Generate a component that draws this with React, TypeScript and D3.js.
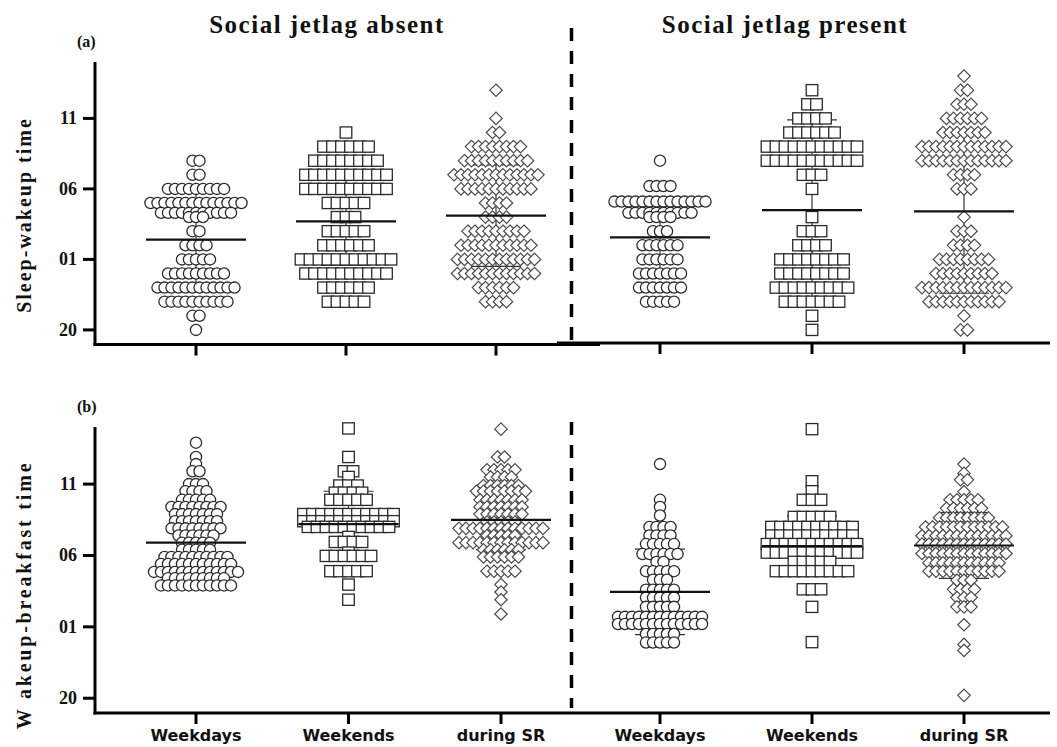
import React from 'react';
import * as d3 from 'd3';

// y values are hours after 20:00 (20 -> 0, 01 -> 5, 06 -> 10, 11 -> 15)
const categories = ['Weekdays', 'Weekends', 'during SR'];
const yTickValues = [0, 5, 10, 15];
const yTickLabels = ['20', '01', '06', '11'];
const columnTitles = ['Social jetlag absent', 'Social jetlag present'];

type Row = [number, number]; // [hours after 20:00, subjects in that row]

// (a) sleep-wakeup, social jetlag absent
const sleepAbsentWeekdays: Row[] = [[12, 2], [11, 2], [10, 9], [9, 14], [8.3, 11], [8, 3], [7, 2], [6, 4], [5, 5], [4, 9], [3, 12], [2, 10], [1, 2], [0, 1]];
const sleepAbsentWeekends: Row[] = [[14, 1], [13, 6], [12, 8], [11, 10], [10, 10], [9, 5], [8, 3], [7, 5], [6, 6], [5, 11], [4, 10], [3, 6], [2, 5]];
const sleepAbsentSR: Row[] = [[17, 1], [15, 1], [14, 2], [13, 8], [12, 10], [11, 13], [10, 11], [9, 4], [8, 4], [7, 9], [6, 11], [5, 12], [4, 12], [3, 6], [2, 4]];
const sleepAbsentMean = [6.4, 7.7, 8.1];
const sleepAbsentSd = [3.4, 3.1, 3.6];

// (a) sleep-wakeup, social jetlag present
const sleepPresentWeekdays: Row[] = [[12, 1], [10.2, 4], [9.1, 14], [8.3, 10], [8, 4], [7, 3], [6, 6], [5, 6], [4, 7], [3, 7], [2, 5]];
const sleepPresentWeekends: Row[] = [[17, 1], [16, 2], [15, 4], [14, 6], [13, 11], [12, 11], [11, 3], [10, 1], [8, 1], [7, 3], [6, 4], [5, 8], [4, 8], [3, 9], [2, 7], [1, 1], [0, 1]];
const sleepPresentSR: Row[] = [[18, 1], [17, 2], [16, 3], [15, 6], [14, 7], [13, 13], [12, 13], [11, 4], [10, 3], [8, 1], [7, 3], [6, 4], [5, 8], [4, 9], [3, 13], [2, 11], [1, 1], [0, 2]];
const sleepPresentMean = [6.56, 8.5, 8.4];
const sleepPresentSd = [2.6, 6.4, 5.8];

// (b) wakeup-breakfast, social jetlag absent
const breakfastAbsentWeekdays: Row[] = [[17.9, 1], [16.9, 1], [16.4, 1], [15.9, 2], [15, 3], [14.5, 4], [13.9, 5], [13.4, 8], [12.9, 7], [12.4, 7], [11.9, 8], [11.4, 6], [10.9, 5], [10.4, 5], [9.9, 10], [9.4, 11], [8.85, 13], [8.4, 9], [7.9, 11]];
const breakfastAbsentWeekends: Row[] = [[18.9, 1], [16.9, 1], [15.9, 2], [15.5, 1], [14.9, 3], [14.4, 4], [13.9, 5], [12.9, 11], [12.4, 11], [12, 10], [11.3, 1], [10.95, 4], [10.2, 1], [9.97, 6], [8.9, 5], [7.96, 1], [6.9, 1]];
const breakfastAbsentSR: Row[] = [[18.85, 1], [16.9, 2], [16, 5], [15.5, 4], [14.9, 6], [14.5, 8], [13.9, 7], [13.4, 7], [12.9, 7], [12.35, 5], [11.9, 13], [11.4, 5], [10.9, 13], [10.4, 6], [9.9, 6], [8.9, 5], [7.96, 1], [7.44, 1], [6.9, 1], [5.9, 1]];
const breakfastAbsentMean = [10.9, 12.2, 12.5];
const breakfastAbsentSd = [2.8, 2.3, 2.1];

// (b) wakeup-breakfast, social jetlag present
const breakfastPresentWeekdays: Row[] = [[16.4, 1], [13.9, 1], [13.4, 1], [12.8, 1], [12, 4], [11.4, 4], [10.8, 5], [10.1, 6], [9.55, 2], [8.9, 5], [8.3, 3], [7.6, 5], [7.05, 5], [6.4, 5], [5.7, 13], [5.2, 13], [4.5, 5], [3.9, 5]];
const breakfastPresentWeekends: Row[] = [[18.85, 1], [15.2, 1], [14.5, 1], [13.9, 3], [12.7, 5], [12, 10], [11.4, 10], [10.8, 11], [10.2, 11], [9.55, 5], [8.9, 9], [7.63, 3], [6.4, 1], [3.93, 1]];
const breakfastPresentSR: Row[] = [[16.4, 1], [15.75, 1], [15.3, 2], [14.47, 1], [13.9, 5], [13.3, 6], [12.64, 8], [12, 12], [11.38, 13], [10.8, 13], [10.14, 13], [9.48, 11], [8.9, 11], [8.27, 3], [7.63, 4], [7.05, 3], [6.4, 3], [5.15, 1], [3.77, 1], [3.35, 1], [0.2, 1]];
const breakfastPresentMean = [7.45, 10.65, 10.7];
const breakfastPresentSd = [3.0, 2.1, 2.3];

const shapes = ['circle', 'square', 'diamond'];
const spacing: Record<string, number> = { circle: 7, square: 9, diamond: 7 };

const serif = '"Liberation Serif", "Times New Roman", serif';
const sans = '"DejaVu Sans", Verdana, sans-serif';

function Mark({ shape, cx, cy }: { shape: string; cx: number; cy: number }) {
    if (shape === 'circle') {
        return <circle cx={cx} cy={cy} r={5.6} fill="#fff" stroke="#2a2a2a" strokeWidth={1.3} />;
    }
    if (shape === 'square') {
        return <rect x={cx - 5.8} y={cy - 5.6} width={11.6} height={11.2} fill="#fff" stroke="#2a2a2a" strokeWidth={1.3} />;
    }
    const r = 6.2;
    return (
        <path
            d={`M${cx},${cy - r}L${cx + r},${cy}L${cx},${cy + r}L${cx - r},${cy}Z`}
            fill="#fff"
            stroke="#4a4a4a"
            strokeWidth={1.2}
        />
    );
}

type Half = {
    rows: Row[][];
    mean: number[];
    sd: number[];
    x: d3.ScalePoint<string>;
};

function Group({ half, y }: { half: Half; y: d3.ScaleLinear<number, number> }) {
    return (
        <g>
            {categories.map((c, ci) => {
                const cx = half.x(c) ?? 0;
                const shape = shapes[ci];
                const m = half.mean[ci];
                const s = half.sd[ci];
                return (
                    <g key={c}>
                        {/* mean +/- SD */}
                        <g stroke="#333" strokeWidth={1.2}>
                            <line x1={cx} x2={cx} y1={y(m + s)} y2={y(m - s)} />
                            <line x1={cx - 25} x2={cx + 25} y1={y(m + s)} y2={y(m + s)} />
                            <line x1={cx - 25} x2={cx + 25} y1={y(m - s)} y2={y(m - s)} />
                        </g>
                        {half.rows[ci].map(([v, n], ri) =>
                            d3.range(n).map((i) => (
                                <Mark
                                    key={`${ri}-${i}`}
                                    shape={shape}
                                    cx={cx + (i - (n - 1) / 2) * spacing[shape]}
                                    cy={y(v)}
                                />
                            ))
                        )}
                        <line x1={cx - 50} x2={cx + 50} y1={y(m)} y2={y(m)} stroke="#111" strokeWidth={2.2} />
                    </g>
                );
            })}
        </g>
    );
}

export default function App() {
    const width = 1057;
    const height = 747;

    const panels = [
        {
            label: '(a)',
            labelY: 47,
            yTitle: 'Sleep-wakeup time',
            yTitleY: 215,
            yTitleSpacing: 2,
            y: d3.scaleLinear().domain([-1, 19]).range([344, 62]),
            axisTop: 62,
            dash: [28, 340],
            axes: [
                { x1: 93.5, x2: 600, y: 344.5 },
                { x1: 557, x2: 1050, y: 343 }
            ],
            halves: [
                {
                    rows: [sleepAbsentWeekdays, sleepAbsentWeekends, sleepAbsentSR],
                    mean: sleepAbsentMean,
                    sd: sleepAbsentSd,
                    x: d3.scalePoint<string>().domain(categories).range([196, 496])
                },
                {
                    rows: [sleepPresentWeekdays, sleepPresentWeekends, sleepPresentSR],
                    mean: sleepPresentMean,
                    sd: sleepPresentSd,
                    x: d3.scalePoint<string>().domain(categories).range([660, 964])
                }
            ],
            showLabels: false
        },
        {
            label: '(b)',
            labelY: 412,
            yTitle: 'W akeup-breakfast time',
            yTitleY: 595,
            yTitleSpacing: 2.8,
            y: d3.scaleLinear().domain([-1, 19]).range([712.5, 427]),
            axisTop: 427,
            dash: [422, 708],
            axes: [{ x1: 93.5, x2: 1050, y: 713 }],
            halves: [
                {
                    rows: [breakfastAbsentWeekdays, breakfastAbsentWeekends, breakfastAbsentSR],
                    mean: breakfastAbsentMean,
                    sd: breakfastAbsentSd,
                    x: d3.scalePoint<string>().domain(categories).range([196, 501])
                },
                {
                    rows: [breakfastPresentWeekdays, breakfastPresentWeekends, breakfastPresentSR],
                    mean: breakfastPresentMean,
                    sd: breakfastPresentSd,
                    x: d3.scalePoint<string>().domain(categories).range([660, 964])
                }
            ],
            showLabels: true
        }
    ];

    const axisX = 95;

    return (
        <svg width={width} height={height} style={{ position: 'absolute', left: 0, top: 0, background: '#fff' }}>
            <rect width={width} height={height} fill="#fff" />

            {/* column titles */}
            {columnTitles.map((t, i) => (
                <text
                    key={t}
                    x={i === 0 ? 327 : 785}
                    y={33}
                    textAnchor="middle"
                    fontFamily={serif}
                    fontWeight="bold"
                    fontSize={25}
                    letterSpacing={1.5}
                    fill="#111"
                >
                    {t}
                </text>
            ))}

            {panels.map((p) => {
                const base = p.axes[0].y;
                return (
                    <g key={p.label}>
                        <text x={77} y={p.labelY} fontFamily={serif} fontWeight="bold" fontSize={16} fill="#111">
                            {p.label}
                        </text>
                        <text
                            transform={`translate(24, ${p.yTitleY}) rotate(-90)`}
                            textAnchor="middle"
                            dominantBaseline="central"
                            fontFamily={serif}
                            fontWeight="bold"
                            fontSize={20}
                            letterSpacing={p.yTitleSpacing}
                            fill="#111"
                        >
                            {p.yTitle}
                        </text>

                        {/* y axis */}
                        <line x1={axisX} x2={axisX} y1={p.axisTop} y2={base + 1.5} stroke="#000" strokeWidth={3} />
                        {yTickValues.map((v, i) => (
                            <g key={v}>
                                <line x1={83} x2={axisX} y1={p.y(v)} y2={p.y(v)} stroke="#000" strokeWidth={3} />
                                <text
                                    x={77}
                                    y={p.y(v)}
                                    textAnchor="end"
                                    dominantBaseline="central"
                                    fontFamily={serif}
                                    fontWeight="bold"
                                    fontSize={18}
                                    fill="#111"
                                >
                                    {yTickLabels[i]}
                                </text>
                            </g>
                        ))}

                        {/* x axes */}
                        {p.axes.map((a, i) => (
                            <line key={i} x1={a.x1} x2={a.x2} y1={a.y} y2={a.y} stroke="#000" strokeWidth={3} />
                        ))}
                        {p.halves.map((h, hi) =>
                            categories.map((c) => (
                                <g key={`${hi}-${c}`}>
                                    <line
                                        x1={h.x(c)}
                                        x2={h.x(c)}
                                        y1={p.axes[Math.min(hi, p.axes.length - 1)].y}
                                        y2={p.axes[Math.min(hi, p.axes.length - 1)].y + 11}
                                        stroke="#000"
                                        strokeWidth={3}
                                    />
                                    {p.showLabels && (
                                        <text
                                            x={h.x(c)}
                                            y={741}
                                            textAnchor="middle"
                                            fontFamily={sans}
                                            fontWeight="bold"
                                            fontSize={16}
                                            fill="#111"
                                        >
                                            {c}
                                        </text>
                                    )}
                                </g>
                            ))
                        )}

                        {/* dashed separator */}
                        <line
                            x1={571.5}
                            x2={571.5}
                            y1={p.dash[0]}
                            y2={p.dash[1]}
                            stroke="#000"
                            strokeWidth={3.5}
                            strokeDasharray="13 10"
                        />

                        {p.halves.map((h, hi) => (
                            <Group key={hi} half={h} y={p.y} />
                        ))}
                    </g>
                );
            })}
        </svg>
    );
}
